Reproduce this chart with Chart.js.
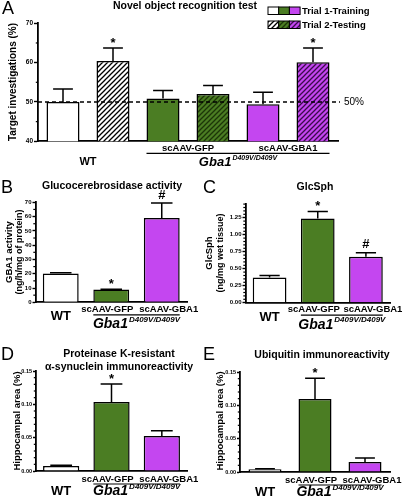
<!DOCTYPE html>
<html>
<head>
<meta charset="utf-8">
<script src="https://cdn.jsdelivr.net/npm/chart.js@4.4.0/dist/chart.umd.min.js"></script>
<style>
  body { margin: 0; background: #fff; }
  #wrap { position: relative; width: 408px; height: 498px; overflow: hidden; }
  canvas { position: absolute; }
</style>
</head>
<body>
<div id="wrap">
  <canvas id="chartA" width="408" height="172" style="left:0px;top:0px"></canvas>
  <canvas id="chartB" width="205" height="157" style="left:0px;top:176px"></canvas>
  <canvas id="chartC" width="208" height="157" style="left:200px;top:176px"></canvas>
  <canvas id="chartD" width="205" height="165" style="left:0px;top:333px"></canvas>
  <canvas id="chartE" width="208" height="165" style="left:200px;top:333px"></canvas>
</div>
<script>
// ---- data ----
const groups = ['WT', 'scAAV-GFP', 'scAAV-GBA1'];
const genotype = 'Gba1';
const genotypeSup = 'D409V/D409V';

// A: novel object recognition (%)
const trial1 = [50.0, 50.9, 49.4];
const trial1Err = [3.3, 2.0, 3.1];
const trial2 = [60.4, 52.0, 60.1];
const trial2Err = [3.3, 2.2, 3.6];
const trial2Marks = ['*', '', '*'];
const ticksA = [40, 50, 60, 70];

// B: GBA1 activity (ng/h/mg of protein)
const gbaActivity = [20.1, 8.9, 59.0];
const gbaActivityErr = [0.5, 0.3, 10.5];
const gbaMarks = ['', '*', '#'];
const ticksB = [0, 10, 20, 30, 40, 50, 60, 70];

// C: GlcSph (ng/mg wet tissue)
const glcSph = [0.37, 1.24, 0.675];
const glcSphErr = [0.03, 0.1, 0.06];
const glcMarks = ['', '*', '#'];
const ticksC = [0, 0.25, 0.5, 0.75, 1.0, 1.25];

// D: PK-resistant a-synuclein, hippocampal area (%)
const synuclein = [0.0075, 0.1035, 0.0525];
const synucleinErr = [0.001, 0.027, 0.008];
const synMarks = ['', '*', ''];
const ticksD = [0, 0.05, 0.10, 0.15];

// E: ubiquitin, hippocampal area (%)
const ubiquitin = [0.004, 0.1095, 0.015];
const ubiquitinErr = [0.001, 0.031, 0.006];
const ubiMarks = ['', '*', ''];
const ticksE = [0, 0.05, 0.10, 0.15];

// ---- style ----
const FONT = "'Liberation Sans', Arial, sans-serif";
const GREEN = '#4b7d23';
const PURPLE = '#c446f0';

function hatch(bg, fg) {
  const c = document.createElement('canvas');
  c.width = 5; c.height = 5;
  const g = c.getContext('2d');
  g.fillStyle = bg;
  g.fillRect(0, 0, 5, 5);
  g.strokeStyle = fg;
  g.lineWidth = 1.3;
  g.beginPath();
  g.moveTo(-1, 6); g.lineTo(6, -1);
  g.moveTo(-1, 1); g.lineTo(1, -1);
  g.moveTo(4, 6); g.lineTo(6, 4);
  g.stroke();
  return g.createPattern(c, 'repeat');
}
const solidFills = ['#ffffff', GREEN, PURPLE];
const hatchFills = [hatch('#ffffff', '#000000'), hatch(GREEN, '#1c3508'), hatch(PURPLE, '#3a0c4c')];

function drawText(ctx, t, x, y, font, align, rot) {
  ctx.save();
  ctx.font = font;
  ctx.fillStyle = '#000';
  ctx.textAlign = align || 'center';
  ctx.textBaseline = 'middle';
  ctx.translate(x, y);
  if (rot) ctx.rotate(rot);
  ctx.fillText(t, 0, 0);
  ctx.restore();
}

function drawGenotype(ctx, cx, cy, size) {
  const f1 = `italic bold ${size}px ${FONT}`;
  const f2 = `italic bold ${Math.round(size * 0.56)}px ${FONT}`;
  ctx.font = f1; const w1 = ctx.measureText(genotype).width;
  ctx.font = f2; const w2 = ctx.measureText(genotypeSup).width;
  const x0 = cx - (w1 + w2 + 1) / 2;
  drawText(ctx, genotype, x0, cy, f1, 'left');
  drawText(ctx, genotypeSup, x0 + w1 + 1, cy - size * 0.35, f2, 'left');
}

// error bars, marks, minor ticks and labels
const annot = {
  id: 'annot',
  afterDatasetsDraw(chart, args, o) {
    const ctx = chart.ctx, y = chart.scales.y, area = chart.chartArea;
    ctx.save();
    if (o.refLine !== undefined) {
      const py = y.getPixelForValue(o.refLine);
      ctx.setLineDash([4, 3]);
      ctx.lineWidth = 1.5;
      ctx.strokeStyle = '#000';
      ctx.beginPath(); ctx.moveTo(area.left, py); ctx.lineTo(area.right + 2, py); ctx.stroke();
      ctx.setLineDash([]);
      drawText(ctx, o.refLine + '%', area.right + 6, py, `10px ${FONT}`, 'left');
    }
    chart.data.datasets.forEach((ds, di) => {
      chart.getDatasetMeta(di).data.forEach((bar, i) => {
        const top = y.getPixelForValue(ds.data[i] + ds.err[i]);
        const cw = bar.width * 0.6;
        ctx.strokeStyle = '#000';
        ctx.lineWidth = 1.5;
        ctx.beginPath();
        ctx.moveTo(bar.x, bar.y); ctx.lineTo(bar.x, top);
        ctx.moveTo(bar.x - cw / 2, top); ctx.lineTo(bar.x + cw / 2, top);
        ctx.stroke();
        if (ds.marks && ds.marks[i]) {
          drawText(ctx, ds.marks[i], bar.x, top - (ds.marks[i] === '*' ? 5 : 8), `bold 13px ${FONT}`);
        }
      });
    });
    ctx.restore();
  },
  afterDraw(chart, args, o) {
    const ctx = chart.ctx, y = chart.scales.y, x = chart.scales.x, area = chart.chartArea;
    ctx.save();
    // minor ticks
    const n = Math.round((y.max - y.min) / o.minor);
    ctx.strokeStyle = '#000';
    ctx.lineWidth = 1.2;
    for (let k = 0; k <= n; k++) {
      const v = y.min + k * o.minor;
      const r = v / o.major;
      if (Math.abs(r - Math.round(r)) < 1e-6) continue;
      const py = y.getPixelForValue(v);
      ctx.beginPath(); ctx.moveTo(area.left - 2.2, py); ctx.lineTo(area.left, py); ctx.stroke();
    }
    // category labels
    const base = area.bottom;
    const metaFirst = chart.getDatasetMeta(0).data;
    const metaLast = chart.getDatasetMeta(chart.data.datasets.length - 1).data;
    drawText(ctx, groups[0], x.getPixelForValue(0), base + o.wtDy, `bold ${o.wtSize}px ${FONT}`);
    drawText(ctx, groups[1], x.getPixelForValue(1) + o.labDx[0], base + o.labDy, `bold ${o.labSize}px ${FONT}`);
    drawText(ctx, groups[2], x.getPixelForValue(2) + o.labDx[1], base + o.labDy, `bold ${o.labSize}px ${FONT}`);
    const l = metaFirst[1].x - metaFirst[1].width / 2;
    const rgt = metaLast[2].x + metaLast[2].width / 2;
    ctx.lineWidth = 1.2;
    ctx.beginPath(); ctx.moveTo(l, base + o.lineDy); ctx.lineTo(rgt, base + o.lineDy); ctx.stroke();
    drawGenotype(ctx, (l + rgt) / 2, base + o.genDy, o.genSize);
    // free texts
    (o.texts || []).forEach(t => drawText(ctx, t[0], t[1], t[2], t[3], t[4], t[5]));
    ctx.restore();
  }
};

function yScale(p) {
  return {
    min: p.min, max: p.max,
    afterBuildTicks: s => { s.ticks = p.ticks.map(v => ({ value: v })); },
    grid: { drawOnChartArea: false, tickLength: p.tickLen, tickWidth: 1.4, tickColor: '#000' },
    border: { color: '#000', width: 1.8 },
    ticks: {
      color: '#000', padding: 1,
      font: { family: FONT, size: p.tickSize, weight: 'bold' },
      callback: v => p.fmt(v)
    },
    afterFit: s => { s.width = p.left; }
  };
}

const xScale = {
  grid: { display: false },
  ticks: { display: false },
  border: { color: '#000', width: 1.8 },
  afterFit: s => { s.height = 0; }
};

function makePanel(id, p) {
  return new Chart(document.getElementById(id), {
    type: 'bar',
    data: { labels: groups, datasets: p.datasets },
    options: {
      responsive: false,
      animation: false,
      layout: { padding: p.pad },
      plugins: { legend: { display: false }, tooltip: { enabled: false }, annot: p.annot },
      scales: { x: xScale, y: yScale(p) }
    },
    plugins: [annot].concat(p.extra || [])
  });
}

function bars(values, errs, marks, fills, pct) {
  return {
    data: values, err: errs, marks: marks,
    backgroundColor: fills, borderColor: '#000', borderWidth: 1.5,
    barPercentage: pct, categoryPercentage: 1
  };
}

const titleFont = `bold 10.5px ${FONT}`;
const letterFont = `18px ${FONT}`;
const UP = -Math.PI / 2;

// ---- panel A ----
const legendPlugin = {
  id: 'legendBoxes',
  afterDraw(chart) {
    const ctx = chart.ctx;
    ctx.save();
    [[solidFills, 7, 'Trial 1-Training'], [hatchFills, 21, 'Trial 2-Testing']].forEach(([fills, y, label]) => {
      fills.forEach((f, i) => {
        const x = 268 + i * 10.7;
        ctx.fillStyle = f;
        ctx.fillRect(x, y, 10.7, 7.5);
        ctx.strokeStyle = '#000';
        ctx.lineWidth = 1;
        ctx.strokeRect(x, y, 10.7, 7.5);
      });
      drawText(ctx, label, 302, y + 4, `bold 9.5px ${FONT}`, 'left');
    });
    ctx.restore();
  }
};

makePanel('chartA', {
  datasets: [
    bars(trial1, trial1Err, null, solidFills, 0.66),
    bars(trial2, trial2Err, trial2Marks, hatchFills, 0.66)
  ],
  pad: { left: 0, top: 23.3, right: 70, bottom: 30.7 },
  min: 40, max: 70, ticks: ticksA, fmt: v => String(v), left: 38, tickSize: 6.5, tickLen: 4,
  extra: [legendPlugin],
  annot: {
    refLine: 50, minor: 5, major: 10,
    wtDy: 20.5, wtSize: 11, labDy: 7.5, labSize: 9.5, labDx: [0, 0], lineDy: 12, genDy: 21.5, genSize: 13,
    texts: [
      ['A', 2, 9, letterFont, 'left'],
      ['Novel object recognition test', 185, 6.5, titleFont],
      ['Target investigations (%)', 13.5, 82, `bold 10px ${FONT}`, 'center', UP]
    ]
  }
});

// ---- panel B ----
makePanel('chartB', {
  datasets: [bars(gbaActivity, gbaActivityErr, gbaMarks, solidFills, 0.71)],
  pad: { left: 0, top: 26.3, right: 18, bottom: 30.7 },
  min: 0, max: 70, ticks: ticksB, fmt: v => String(v), left: 35.5, tickSize: 6, tickLen: 3,
  annot: {
    minor: 5, major: 10,
    wtDy: 14.5, wtSize: 13, labDy: 7, labSize: 9.5, labDx: [-4, 7], lineDy: 12.5, genDy: 22, genSize: 14,
    texts: [
      ['B', 1, 12, letterFont, 'left'],
      ['Glucocerebrosidase activity', 112, 10, titleFont],
      ['GBA1 activity', 9.5, 76, `bold 9.5px ${FONT}`, 'center', UP],
      ['(ng/h/mg of protein)', 19.5, 76, `bold 9px ${FONT}`, 'center', UP]
    ]
  }
});

// ---- panel C ----
makePanel('chartC', {
  datasets: [bars(glcSph, glcSphErr, glcMarks, solidFills, 0.7)],
  pad: { left: 0, top: 28.1, right: 18, bottom: 30.3 },
  min: 0, max: 1.45, ticks: ticksC, fmt: v => v.toFixed(2), left: 45.5, tickSize: 6, tickLen: 3,
  annot: {
    minor: 0.05, major: 0.25,
    wtDy: 14.5, wtSize: 13, labDy: 7, labSize: 9.5, labDx: [-4, 7], lineDy: 12.5, genDy: 22, genSize: 14,
    texts: [
      ['C', 3, 12, letterFont, 'left'],
      ['GlcSph', 115, 11, titleFont],
      ['GlcSph', 9, 77, `bold 9.5px ${FONT}`, 'center', UP],
      ['(ng/mg wet tissue)', 21, 77, `bold 9px ${FONT}`, 'center', UP]
    ]
  }
});

// ---- panel D ----
makePanel('chartD', {
  datasets: [bars(synuclein, synucleinErr, synMarks, solidFills, 0.72)],
  pad: { left: 0, top: 38, right: 18, bottom: 27 },
  min: 0, max: 0.15, ticks: ticksD, fmt: v => v.toFixed(2), left: 36, tickSize: 5.5, tickLen: 3,
  annot: {
    minor: 0.01, major: 0.05,
    wtDy: 20, wtSize: 13, labDy: 8, labSize: 9.5, labDx: [-4, 7], lineDy: 13, genDy: 20.5, genSize: 14,
    texts: [
      ['D', 1, 22, letterFont, 'left'],
      ['Proteinase K-resistant', 119, 21, titleFont],
      ['\u03b1-synuclein immunoreactivity', 119, 34, titleFont],
      ['Hippocampal area (%)', 17.5, 88, `bold 9.5px ${FONT}`, 'center', UP]
    ]
  }
});

// ---- panel E ----
makePanel('chartE', {
  datasets: [bars(ubiquitin, ubiquitinErr, ubiMarks, solidFills, 0.66)],
  pad: { left: 0, top: 39, right: 18, bottom: 26 },
  min: 0, max: 0.15, ticks: ticksE, fmt: v => v.toFixed(2), left: 40, tickSize: 5.5, tickLen: 3,
  annot: {
    minor: 0.01, major: 0.05,
    wtDy: 20, wtSize: 13, labDy: 8, labSize: 9.5, labDx: [-4, 7], lineDy: 13, genDy: 20.5, genSize: 14,
    texts: [
      ['E', 3, 22, letterFont, 'left'],
      ['Ubiquitin immunoreactivity', 122, 22, titleFont],
      ['Hippocampal area (%)', 20.5, 88, `bold 9.5px ${FONT}`, 'center', UP]
    ]
  }
});
</script>
</body>
</html>
